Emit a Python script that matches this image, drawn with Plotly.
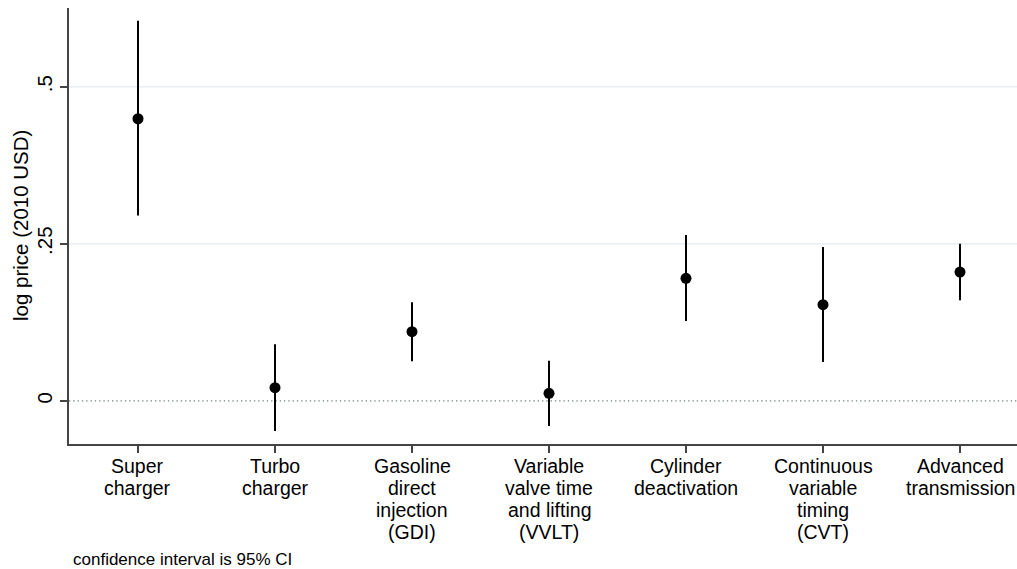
import plotly.graph_objects as go

# ---- data ----
categories = [
    ["Super", "charger"],
    ["Turbo", "charger"],
    ["Gasoline", "direct", "injection", "(GDI)"],
    ["Variable", "valve time", "and lifting", "(VVLT)"],
    ["Cylinder", "deactivation"],
    ["Continuous", "variable", "timing", "(CVT)"],
    ["Advanced", "transmission"],
]
estimate = [0.449, 0.021, 0.110, 0.012, 0.195, 0.153, 0.205]
ci_upper = [0.605, 0.090, 0.157, 0.064, 0.264, 0.245, 0.250]
ci_lower = [0.295, -0.048, 0.063, -0.040, 0.127, 0.062, 0.160]
y_ticks = [0, 0.25, 0.5]
y_tick_labels = ["0", ".25", ".5"]
grid_values = [0.25, 0.5]
note = "confidence interval is 95% CI"
y_title = "log price (2010 USD)"

FONT = "Liberation Sans, Arial, Helvetica, sans-serif"
FS = 20.5
LABEL_FS = 19.5
LINE_STEP = 22
xpos = list(range(1, len(categories) + 1))

fig = go.Figure()
fig.add_trace(go.Scatter(
    x=xpos, y=estimate, mode="markers",
    marker=dict(size=11, color="black"),
    error_y=dict(
        type="data", symmetric=False,
        array=[u - e for u, e in zip(ci_upper, estimate)],
        arrayminus=[e - l for e, l in zip(estimate, ci_lower)],
        width=0, thickness=2, color="black",
    ),
    showlegend=False, hoverinfo="skip",
))

shapes = []
for g in grid_values:
    shapes.append(dict(type="line", xref="paper", x0=0, x1=1, yref="y", y0=g, y1=g,
                       line=dict(color="#e8eef1", width=1.6), layer="below"))
shapes.append(dict(type="line", xref="paper", x0=0, x1=1, yref="y", y0=0, y1=0,
                   line=dict(color="#6f817c", width=1.3, dash="1.3px,3px"), layer="below"))

annotations = []
for i, lines in enumerate(categories):
    for j, txt in enumerate(lines):
        annotations.append(dict(
            x=xpos[i], xref="x", y=0, yref="paper",
            text=txt, showarrow=False, xanchor="center", yanchor="middle",
            yshift=-(22 + LINE_STEP * j), borderpad=0,
            font=dict(family=FONT, size=LABEL_FS, color="black"),
        ))
annotations.append(dict(
    x=0, xref="paper", y=0, yref="paper", text=note, showarrow=False,
    xanchor="left", yanchor="middle", xshift=2, yshift=-(559 - 444),
    font=dict(family=FONT, size=17, color="black"),
))
annotations.append(dict(
    x=0, xref="paper", y=0.5, yref="paper", text=y_title, showarrow=False,
    textangle=-90, xanchor="center", yanchor="middle", xshift=-49,
    font=dict(family=FONT, size=FS, color="black"),
))

fig.update_layout(
    width=1017, height=569,
    margin=dict(l=69, r=0, t=8, b=125),
    paper_bgcolor="white", plot_bgcolor="white",
    font=dict(family=FONT, size=FS, color="black"),
    shapes=shapes, annotations=annotations,
    xaxis=dict(
        range=[0.4964, 7.416], tickvals=xpos, showticklabels=False,
        ticks="outside", ticklen=7, tickwidth=1.5, tickcolor="#444",
        showline=True, linecolor="#444", linewidth=1.5,
        showgrid=False, zeroline=False, fixedrange=True,
    ),
    yaxis=dict(
        range=[-0.0687, 0.6253], tickvals=y_ticks, ticktext=y_tick_labels,
        tickangle=-90, ticks="outside", ticklen=7, tickwidth=1.5, tickcolor="#444",
        tickfont=dict(family=FONT, size=FS, color="black"),
        showline=True, linecolor="#444", linewidth=1.5,
        showgrid=False, zeroline=False, fixedrange=True,
    ),
)

fig.write_html("out.html")
